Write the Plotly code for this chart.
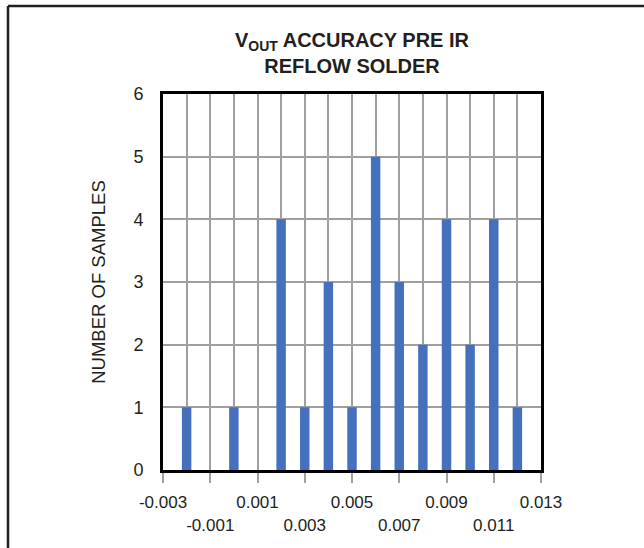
import plotly.graph_objects as go

# accuracy bins (V) and sample counts
accuracy = [-0.002, 0.000, 0.002, 0.003, 0.004, 0.005, 0.006, 0.007, 0.008, 0.009, 0.010, 0.011, 0.012]
samples = [1, 1, 4, 1, 3, 1, 5, 3, 2, 4, 2, 4, 1]

# staggered x tick labels (odd ones drop to a second row)
tick_vals = [-0.003, -0.001, 0.001, 0.003, 0.005, 0.007, 0.009, 0.011, 0.013]
tick_text = ["-0.003", "<br>-0.001", "0.001", "<br>0.003", "0.005",
             "<br>0.007", "0.009", "<br>0.011", "0.013"]

FONT = "Liberation Sans, Arial, sans-serif"
W, H = 644, 548
ML, MR, MT, MB = 163, 103, 94, 78

fig = go.Figure()
fig.add_trace(go.Bar(
    x=accuracy, y=samples,
    width=0.0004,
    marker=dict(color="#4470BE", line=dict(width=0)),
))

fig.update_layout(
    width=W, height=H,
    margin=dict(l=ML, r=MR, t=MT, b=MB, autoexpand=False),
    paper_bgcolor="white", plot_bgcolor="white",
    font=dict(family=FONT, color="#231f20", size=17),
    showlegend=False,
    title=dict(
        text="V<sub>OUT</sub> ACCURACY PRE IR<br>REFLOW SOLDER",
        font=dict(family=FONT, size=20, color="#231f20", weight="bold"),
        x=(ML + (W - ML - MR) / 2) / W, xanchor="center",
        y=1 - 47 / H, yanchor="top",
    ),
)

fig.update_xaxes(
    range=[-0.003, 0.013],
    tickmode="array", tickvals=tick_vals, ticktext=tick_text,
    tickangle=0,
    ticks="outside", ticklen=10, tickwidth=1.5, tickcolor="#a0a0a0",
    ticklabelstandoff=5,
    showgrid=True, gridcolor="#a0a0a0", gridwidth=1.5,
    minor=dict(tick0=-0.003, dtick=0.001, showgrid=True, gridcolor="#a0a0a0", gridwidth=1.5),
    showline=True, linecolor="black", linewidth=3, mirror=True,
    zeroline=False, automargin=False,
    tickfont=dict(size=17),
)
fig.update_yaxes(
    range=[0, 6], dtick=1,
    showgrid=True, gridcolor="#a0a0a0", gridwidth=1.5,
    showline=True, linecolor="black", linewidth=3, mirror=True,
    zeroline=False, automargin=False,
    ticklabelstandoff=13,
    tickfont=dict(size=18),
    title=dict(text="NUMBER OF SAMPLES", font=dict(size=18.5), standoff=23),
)

# outer frame (left and top edges only, as in the cropped reference)
pw = W - ML - MR
ph = H - MT - MB
fx = (8 - ML) / pw
fy = 1 + (MT - 6) / ph
fig.add_shape(type="line", xref="paper", yref="paper", x0=fx, x1=(W - ML) / pw + 0.01,
              y0=fy, y1=fy, line=dict(color="#231f20", width=2.5))
fig.add_shape(type="line", xref="paper", yref="paper", x0=fx, x1=fx,
              y0=fy, y1=-MB / ph - 0.01, line=dict(color="#231f20", width=2.5))

# drop the default page margin so the figure sits at the window origin
fig.write_html("out.html", config={"displayModeBar": False},
               post_script="document.body.style.margin='0';"
                           "document.body.style.overflow='hidden';")
